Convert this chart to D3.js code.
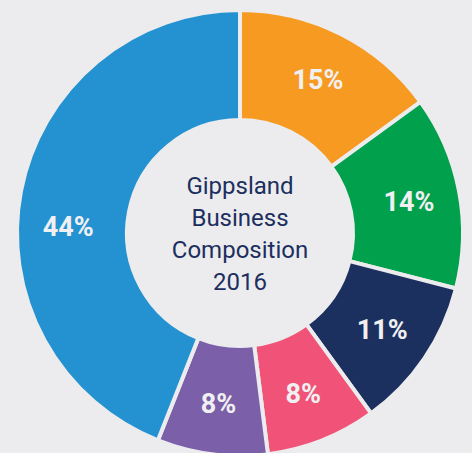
<html>
<head>
<script src="https://d3js.org/d3.v7.min.js"></script>
<style>
  body { margin: 0; background: #ececee; }
  svg { display: block; }
</style>
</head>
<body>
<svg id="donut" width="472" height="453"></svg>
<script>
// slices, clockwise from 12 o'clock
const categories = ["Orange", "Green", "Navy", "Pink", "Purple", "Blue"];
const shares = [15, 14, 11, 8, 8, 44];
const labels = ["15%", "14%", "11%", "8%", "8%", "44%"];
const colours = ["#f79a21", "#00a04c", "#1b305e", "#f15378", "#7b5fa8", "#2492d0"];
const titleLines = ["Gippsland", "Business", "Composition", "2016"];

const svg = d3.select("svg#donut");
const cx = 240, cy = 233;
const outer = 223, inner = 113;

const g = svg.append("g").attr("transform", `translate(${cx},${cy})`);

const pie = d3.pie().sort(null).value(d => d.value);
const arc = d3.arc().innerRadius(inner).outerRadius(outer);
const labelArc = d3.arc().innerRadius(172).outerRadius(172);

const data = categories.map((c, i) => ({ name: c, value: shares[i], label: labels[i], colour: colours[i] }));
const arcs = pie(data);

g.selectAll("path.slice")
  .data(arcs)
  .join("path")
  .attr("class", "slice")
  .attr("d", arc)
  .attr("fill", d => d.data.colour)
  .attr("stroke", "#ececee")
  .attr("stroke-width", 4);

// the big slice has its label pulled up towards the horizontal
const labelNudge = { Blue: -0.15 };

g.selectAll("text.pct")
  .data(arcs)
  .join("text")
  .attr("class", "pct")
  .attr("transform", d => {
    const nudge = labelNudge[d.data.name] || 0;
    const a = (d.startAngle + d.endAngle) / 2 + nudge;
    const p = labelArc.centroid({ startAngle: a, endAngle: a });
    return `translate(${p[0]},${p[1]})`;
  })
  .attr("text-anchor", "middle")
  .attr("dy", "0.36em")
  .style("font-family", "Roboto, sans-serif")
  .style("font-weight", 700)
  .style("font-size", "27px")
  .style("fill", "#f0f0f2")
  .text(d => d.data.label);

const lineGap = 32;
g.append("text")
  .attr("text-anchor", "middle")
  .style("font-family", "Roboto, sans-serif")
  .style("font-weight", 400)
  .style("font-size", "24px")
  .style("fill", "#1c2f5e")
  .selectAll("tspan")
  .data(titleLines)
  .join("tspan")
  .attr("x", 0)
  .attr("y", (d, i) => (i - (titleLines.length - 1) / 2) * lineGap)
  .attr("dy", "0.36em")
  .text(d => d);
</script>
</body>
</html>
